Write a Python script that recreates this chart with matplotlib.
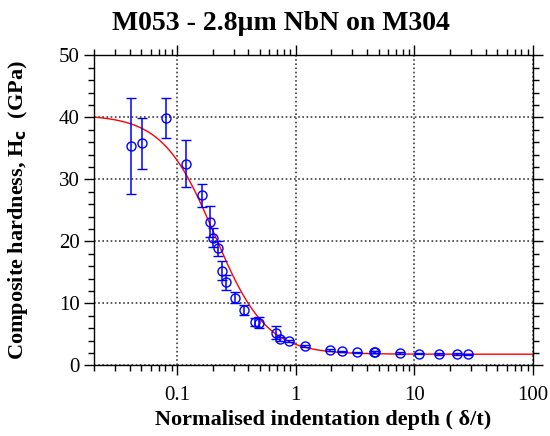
import matplotlib.pyplot as plt
import numpy as np

plt.rcParams['font.family'] = ['Liberation Serif', 'DejaVu Serif']

# measured points: normalised depth, composite hardness (GPa), error
depth = [0.0406, 0.0504, 0.081, 0.12, 0.161, 0.1905, 0.2018, 0.2196, 0.239,
         0.258, 0.31, 0.369, 0.451, 0.49, 0.687, 0.733, 0.873, 1.21, 1.95,
         2.48, 3.32, 4.6, 4.7, 7.55, 11.0, 16.0, 22.9, 28.5]
hardness = [35.4, 35.8, 39.9, 32.5, 27.4, 23.2, 20.6, 18.9, 15.3,
            13.4, 10.9, 8.9, 7.0, 6.9, 5.3, 4.2, 3.9, 3.1, 2.45,
            2.26, 2.1, 2.2, 2.1, 1.98, 1.87, 1.82, 1.82, 1.77]
err = [7.8, 4.15, 3.3, 3.8, 1.8, 2.5, 1.5, 1.2, 1.5,
       1.2, 0.9, 0.8, 0.7, 0.9, 1.1, 0.3, 0.2, 0.2, 0.2,
       0.1, 0.1, 0.15, 0.15, 0.1, 0.1, 0.1, 0.1, 0.1]

# fitted model parameters
H_film = 40.4
H_sub = 1.8
x0 = 0.207
n_exp = 2.0

fig = plt.figure(figsize=(5.5, 4.36), dpi=100)
ax = fig.add_axes([0.171, 0.162, 0.798, 0.711])

xf = np.logspace(np.log10(0.02), 2, 400)
fit = H_sub + (H_film - H_sub) / (1 + (xf / x0) ** n_exp)
ax.plot(xf, fit, color='red', lw=1)

ax.errorbar(depth, hardness, yerr=err, fmt='o', mfc='none', mec='#0000ff',
            ecolor='#0000ff', ms=6.5, mew=1, elinewidth=1.1, capsize=3.5,
            capthick=1.1)

ax.set_xscale('log')
ax.set_xlim(0.02, 100)
ax.set_ylim(0, 50)
ax.set_yticks([0, 10, 20, 30, 40, 50])
ax.set_yticks(np.arange(0, 51, 2), minor=True)
ax.set_xticks([0.1, 1, 10, 100])
ax.set_xticklabels(['0.1', '1', '10', '100'])
ax.grid(True, which='major', color='0.25', linestyle=(0, (1, 1.5)), linewidth=1.2)

ax.tick_params(which='both', direction='out', top=True, right=True,
               labelsize=15, width=1)
ax.tick_params(which='major', length=7)
ax.tick_params(which='minor', length=4)
ax.tick_params(axis='x', which='major', pad=8)
for s in ax.spines.values():
    s.set_linewidth(1)

fig.suptitle('M053 - 2.8µm NbN on M304', fontsize=20, fontweight='bold',
             x=0.51, y=0.975)
ax.set_xlabel('Normalised indentation depth ( δ/t)', fontsize=16,
              fontweight='bold')
ax.xaxis.set_label_coords(0.523, -0.145)
ax.set_ylabel(r'Composite hardness, H$_{\mathbf{c}}$  (GPa)', fontsize=16,
              fontweight='bold')
ax.yaxis.set_label_coords(-0.145, 0.5)

fig.savefig('out.png', dpi=100)
